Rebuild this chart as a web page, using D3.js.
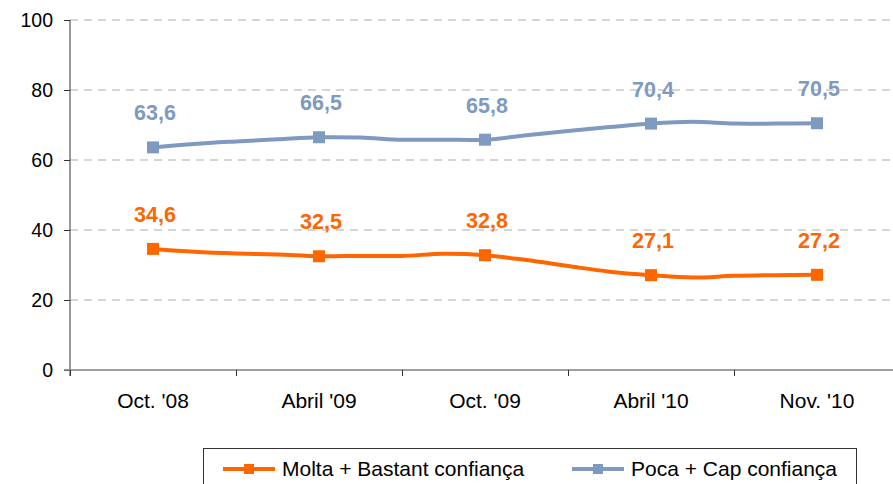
<!DOCTYPE html>
<html>
<head>
<meta charset="utf-8">
<script src="https://cdn.jsdelivr.net/npm/d3@7"></script>
<style>
    html, body { margin: 0; padding: 0; background: #fff; }
    svg { display: block; font-family: "Liberation Sans", Arial, sans-serif; }
</style>
</head>
<body>
<svg id="chart" width="893" height="484"></svg>
<script>
"use strict";

// labelled survey waves
var categories = ["Oct. '08", "Abril '09", "Oct. '09", "Abril '10", "Nov. '10"];
var yTicks = [0, 20, 40, 60, 80, 100];

// values shown with markers + labels
var moltaValues = [34.6, 32.5, 32.8, 27.1, 27.2];
var pocaValues = [63.6, 66.5, 65.8, 70.4, 70.5];

// full traces (quarter steps between labelled waves)
var moltaTrace = [34.6, 33.8, 33.3, 33.0, 32.5, 32.6, 32.6, 33.2, 32.8, 31.4, 29.7, 28.1, 27.1, 26.4, 26.9, 27.1, 27.2];
var pocaTrace = [63.6, 64.6, 65.3, 65.9, 66.5, 66.4, 65.8, 65.8, 65.8, 67.1, 68.3, 69.4, 70.4, 70.9, 70.4, 70.4, 70.5];
var traceStep = 0.25;

var series = [
    { name: "Molta + Bastant confiança", color: "#FF6600", values: moltaValues, trace: moltaTrace },
    { name: "Poca + Cap confiança", color: "#7F9AC0", values: pocaValues, trace: pocaTrace }
];

var margin = { left: 70, top: 20, plotRight: 900, bottom: 370 };

var svg = d3.select("#chart");

var x = d3.scaleLinear()
    .domain([-0.5, categories.length - 0.5])
    .range([margin.left, margin.plotRight]);

var y = d3.scaleLinear()
    .domain([0, 100])
    .range([margin.bottom, margin.top]);

// dashed gridlines
svg.append("g")
    .attr("class", "grid")
    .selectAll("line")
    .data(yTicks.filter(function(d) { return d > 0; }))
    .enter()
    .append("line")
    .attr("x1", margin.left)
    .attr("x2", margin.plotRight)
    .attr("y1", function(d) { return y(d); })
    .attr("y2", function(d) { return y(d); })
    .attr("stroke", "#c8c8c8")
    .attr("stroke-width", 1.3)
    .attr("stroke-dasharray", "8,6");

// y axis
var yAxis = svg.append("g")
    .attr("transform", "translate(" + margin.left + ",0)")
    .call(d3.axisLeft(y).tickValues(yTicks).tickSize(6).tickPadding(11).tickSizeOuter(0));
yAxis.attr("font-family", null).attr("font-size", null);
yAxis.select(".domain").attr("stroke", "#333").attr("d", "M0," + y(100) + "V" + (y(0) + 6));
yAxis.selectAll(".tick line").attr("stroke", "#333");
yAxis.selectAll(".tick text")
    .style("font-size", "19.5px")
    .attr("fill", "#000");

// x axis: ticks between the labelled waves
var boundaries = d3.range(categories.length + 1).map(function(i) { return i - 0.5; });
var xAxis = svg.append("g")
    .attr("transform", "translate(0," + margin.bottom + ")")
    .call(d3.axisBottom(x).tickValues(boundaries).tickSize(6).tickFormat(""));
xAxis.select(".domain").attr("stroke", "#808080").attr("stroke-width", 1.5)
    .attr("d", "M" + (margin.left - 6) + ",0H" + margin.plotRight);
xAxis.selectAll(".tick line").attr("stroke", "#333");

svg.append("g")
    .attr("class", "x-labels")
    .selectAll("text")
    .data(categories)
    .enter()
    .append("text")
    .attr("x", function(d, i) { return x(i); })
    .attr("y", 408)
    .attr("text-anchor", "middle")
    .style("font-size", "21px")
    .attr("fill", "#000")
    .text(function(d) { return d; });

// lines
var line = d3.line()
    .x(function(d, i) { return x(i * traceStep); })
    .y(function(d) { return y(d); })
    .curve(d3.curveCatmullRom.alpha(0.5));

var seriesG = svg.selectAll(".series")
    .data(series)
    .enter()
    .append("g")
    .attr("class", "series");

seriesG.append("path")
    .attr("d", function(s) { return line(s.trace); })
    .attr("fill", "none")
    .attr("stroke", function(s) { return s.color; })
    .attr("stroke-width", 4)
    .attr("stroke-linejoin", "round");

seriesG.each(function(s) {
    var g = d3.select(this);

    g.selectAll("rect")
        .data(s.values)
        .enter()
        .append("rect")
        .attr("x", function(d, i) { return x(i) - 6; })
        .attr("y", function(d) { return y(d) - 6; })
        .attr("width", 12)
        .attr("height", 12)
        .attr("fill", s.color);

    g.selectAll("text")
        .data(s.values)
        .enter()
        .append("text")
        .attr("x", function(d, i) { return x(i) + 2; })
        .attr("y", function(d) { return y(d) - 27; })
        .attr("text-anchor", "middle")
        .style("font-size", "21.5px")
        .attr("font-weight", "bold")
        .attr("fill", s.color)
        .text(function(d) { return d.toFixed(1).replace(".", ","); });
});

// legend
var legend = svg.append("g").attr("class", "legend");

legend.append("rect")
    .attr("x", 203.5)
    .attr("y", 448.5)
    .attr("width", 653)
    .attr("height", 60)
    .attr("fill", "#fff")
    .attr("stroke", "#333")
    .attr("stroke-width", 1);

var legendX = [223, 572];

var item = legend.selectAll(".legend-item")
    .data(series)
    .enter()
    .append("g")
    .attr("class", "legend-item")
    .attr("transform", function(d, i) { return "translate(" + legendX[i] + ",469)"; });

item.append("line")
    .attr("x1", 0)
    .attr("x2", 52)
    .attr("stroke", function(s) { return s.color; })
    .attr("stroke-width", 4);

item.append("rect")
    .attr("x", 21)
    .attr("y", -5)
    .attr("width", 10)
    .attr("height", 10)
    .attr("fill", function(s) { return s.color; });

item.append("text")
    .attr("x", 59)
    .attr("y", 7)
    .style("font-size", "21px")
    .attr("fill", "#000")
    .text(function(s) { return s.name; });
</script>
</body>
</html>
